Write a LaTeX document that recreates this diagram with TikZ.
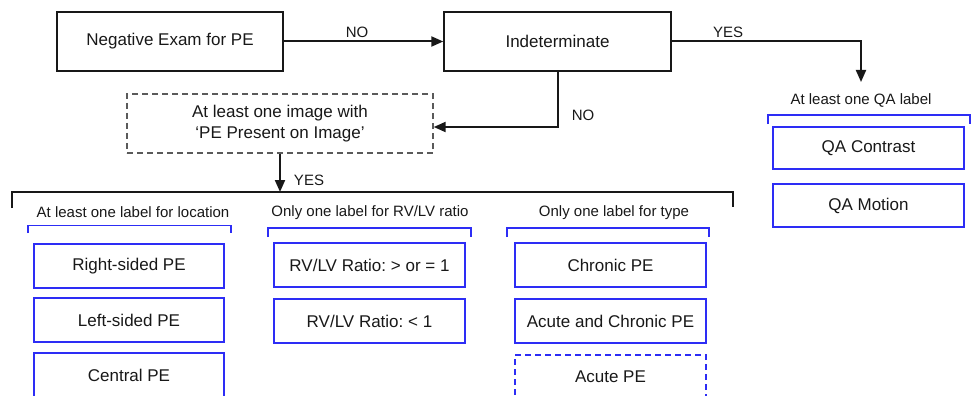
\documentclass[tikz,border=0pt]{standalone}
\usepackage{fontspec}
\setmainfont{Liberation Sans}
\usetikzlibrary{arrows.meta}
\frenchspacing
\definecolor{ink}{RGB}{24,24,24}
\definecolor{bluebox}{RGB}{45,45,245}
\definecolor{graydash}{RGB}{90,90,90}
\tikzset{
  x=1pt, y=-1pt,
  flowbox/.style={draw=ink, line width=1.4pt, inner sep=0pt, align=center,
    font=\fontsize{17}{20}\selectfont, text=ink},
  optbox/.style={draw=graydash, line width=1.4pt, dash pattern=on 6pt off 4pt,
    inner sep=0pt, align=center, font=\fontsize{17}{21}\selectfont, text=ink},
  labelbox/.style={draw=bluebox, line width=1.8pt, inner sep=0pt,
    minimum height=44pt, font=\fontsize{17}{20}\selectfont, text=ink},
  grouphead/.style={inner sep=0pt, font=\fontsize{15}{18}\selectfont, text=ink},
  edgetext/.style={inner sep=0pt, font=\fontsize{15}{18}\selectfont, text=ink},
  flow/.style={draw=ink, line width=2pt, -{Triangle[length=12pt,width=10pt]}},
  groupbracket/.style={draw=ink, line width=2pt},
  bluebracket/.style={draw=bluebox, line width=1.8pt},
}
\begin{document}
\begin{tikzpicture}
\useasboundingbox (0,0) rectangle (972,396);
\begin{scope}
\clip (0,0) rectangle (972,396);

% top row of the flow
\node[flowbox, minimum width=226pt, minimum height=59pt] (neg) at (170,41.5) {Negative Exam for PE};
\node[flowbox, minimum width=227pt, minimum height=59pt] (ind) at (557.5,41.5) {Indeterminate};
\node[optbox, minimum width=306pt, minimum height=59pt] (img) at (280,123.5) {At least one image with\\`PE Present on Image'};

\coordinate (qaIn) at (861,82);
\coordinate (grpIn) at (280,192);

\draw[flow] (neg.east) -- (ind.west);
\node[edgetext] (noA) at (357,32) {NO};
\draw[flow] (ind.east) -| (qaIn);
\node[edgetext] (yesA) at (728,32) {YES};
\draw[flow] (ind.south) |- ([yshift=-3.5pt]img.east);
\node[edgetext] (noB) at (583,115) {NO};
\draw[flow] (img.south) -- (grpIn);
\node[edgetext] (yesB) at (309,180) {YES};

% bracket gathering the three label groups
\draw[groupbracket] (12,208) -- (12,192) -- (733,192) -- (733,207);

% QA labels
\node[grouphead] (qahead) at (861,100) {At least one QA label};
\draw[bluebracket] (768,124) -- (768,115) -- (970,115) -- (970,124);
\node[labelbox, minimum width=191pt, minimum height=42pt] (qac) at (868.5,148) {QA Contrast};
\node[labelbox, minimum width=191pt, minimum height=43pt] (qam) at (868.5,205.5) {QA Motion};

% location group
\node[grouphead] (lochead) at (133,212) {At least one label for location};
\draw[bluebracket] (28,233) -- (28,225.5) -- (231,225.5) -- (231,233);
\node[labelbox, minimum width=190pt] (right) at (129,266) {Right-sided PE};
\node[labelbox, minimum width=190pt] (left) at (129,320) {Left-sided PE};
\node[labelbox, minimum width=190pt] (central) at (129,375) {Central PE};

% RV/LV ratio group
\node[grouphead] (rvhead) at (370,213) {Only one label for RV/LV ratio};
\draw[bluebracket] (268,237) -- (268,228) -- (471,228) -- (471,237);
\node[labelbox, minimum width=191pt] (rvge) at (369.5,265) {RV/LV Ratio: > or = 1};
\node[labelbox, minimum width=191pt] (rvlt) at (369.5,321) {RV/LV Ratio: < 1};

% type group
\node[grouphead] (typehead) at (614,213) {Only one label for type};
\draw[bluebracket] (507,237) -- (507,228) -- (709,228) -- (709,237);
\node[labelbox, minimum width=191pt] (chronic) at (610.5,265) {Chronic PE};
\node[labelbox, minimum width=191pt] (acchr) at (610.5,321) {Acute and Chronic PE};
\node[labelbox, minimum width=191pt, dash pattern=on 6pt off 4pt] (acute) at (610.5,377) {Acute PE};
\end{scope}
\end{tikzpicture}
\end{document}
